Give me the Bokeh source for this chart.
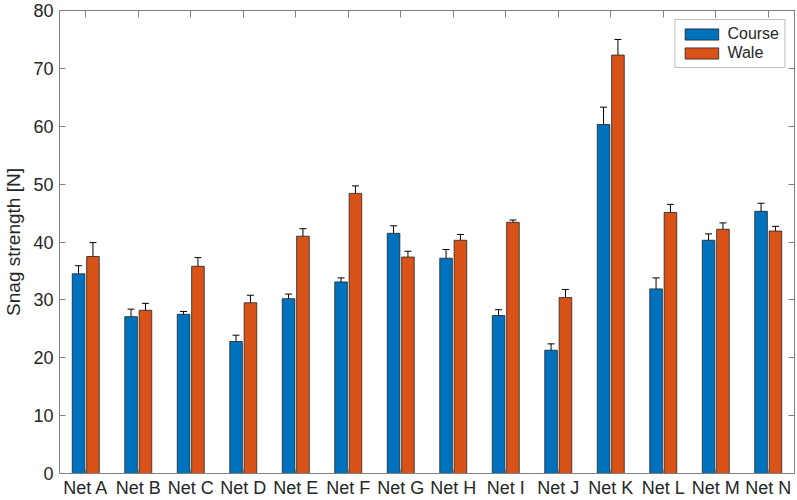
from bokeh.plotting import figure
from bokeh.models import (ColumnDataSource, Range1d, LinearAxis,
                          Whisker, TeeHead, Legend, LegendItem, FixedTicker)
from bokeh.transform import dodge
from bokeh.embed import file_html
from bokeh.resources import INLINE

nets = ["Net A", "Net B", "Net C", "Net D", "Net E", "Net F", "Net G",
        "Net H", "Net I", "Net J", "Net K", "Net L", "Net M", "Net N"]
course = [34.5, 27.1, 27.5, 22.8, 30.2, 33.1, 41.5, 37.2, 27.3, 21.3, 60.3, 31.9, 40.3, 45.3]
course_err = [1.4, 1.3, 0.5, 1.1, 0.8, 0.7, 1.3, 1.5, 1.0, 1.1, 3.0, 1.9, 1.1, 1.4]
wale = [37.5, 28.2, 35.8, 29.5, 41.0, 48.4, 37.4, 40.3, 43.4, 30.4, 72.3, 45.1, 42.2, 41.9]
wale_err = [2.4, 1.2, 1.5, 1.3, 1.3, 1.3, 1.0, 1.0, 0.4, 1.4, 2.7, 1.4, 1.1, 0.8]
y_ticks = [0, 10, 20, 30, 40, 50, 60, 70, 80]

FONT = "Liberation Sans"
TXT = "#262626"
AX = "#808080"
BLUE = "#0072BD"
ORANGE = "#D95319"

pos = list(range(1, len(nets) + 1))

src = ColumnDataSource(dict(
    pos=pos, course=course, wale=wale,
    c_up=[v + e for v, e in zip(course, course_err)],
    c_lo=[v - e for v, e in zip(course, course_err)],
    w_up=[v + e for v, e in zip(wale, wale_err)],
    w_lo=[v - e for v, e in zip(wale, wale_err)],
))

p = figure(width=797, height=500, x_range=Range1d(0.5, len(nets) + 0.5),
           y_range=Range1d(0, 80), output_backend="svg", toolbar_location=None,
           min_border_left=56, min_border_right=3, min_border_top=10, min_border_bottom=26)
p.xgrid.visible = False
p.ygrid.visible = False
p.outline_line_color = AX
p.background_fill_color = "white"
p.border_fill_color = "white"

off = 0.137
bw = 0.24
r1 = p.vbar(x=dodge("pos", -off), top="course", width=bw, source=src,
            fill_color=BLUE, line_color="#222222", line_width=0.8)
r2 = p.vbar(x=dodge("pos", off), top="wale", width=bw, source=src,
            fill_color=ORANGE, line_color="#222222", line_width=0.8)

for base, up, lo in [(-off, "c_up", "c_lo"), (off, "w_up", "w_lo")]:
    w = Whisker(base=dodge("pos", base), upper=up, lower=lo, source=src,
                line_color="black", line_width=1,
                upper_head=TeeHead(size=7, line_color="black", line_width=1),
                lower_head=TeeHead(size=7, line_color="black", line_width=1))
    p.add_layout(w)

# bottom axis with category labels
xa = p.xaxis[0]
xa.ticker = FixedTicker(ticks=pos)
xa.major_label_overrides = {k: n for k, n in zip(pos, nets)}
xa.axis_line_color = AX
xa.major_tick_in = 4
xa.major_tick_out = 0
xa.minor_tick_line_color = None
xa.major_tick_line_color = AX
xa.major_label_text_font = FONT
xa.major_label_text_font_size = "18px"
xa.major_label_text_color = TXT
xa.major_label_standoff = 4

ya = p.yaxis[0]
ya.ticker = FixedTicker(ticks=y_ticks)
ya.axis_line_color = AX
ya.major_tick_in = 6
ya.major_tick_out = 0
ya.minor_tick_line_color = None
ya.major_tick_line_color = AX
ya.major_label_text_font = FONT
ya.major_label_text_font_size = "18px"
ya.major_label_text_color = TXT
ya.major_label_standoff = 6
ya.axis_label = "Snag strength [N]"
ya.axis_label_text_font = FONT
ya.axis_label_text_font_size = "19px"
ya.axis_label_text_font_style = "normal"
ya.axis_label_text_color = TXT
ya.axis_label_standoff = 6

# top and right box ticks (label-free, via minor ticks)
top = LinearAxis(ticker=FixedTicker(ticks=[], minor_ticks=pos),
                 minor_tick_in=7, minor_tick_out=0, minor_tick_line_color=AX,
                 major_tick_line_color=None, axis_line_color=AX, major_label_standoff=0)
p.add_layout(top, "above")
right = LinearAxis(ticker=FixedTicker(ticks=[], minor_ticks=y_ticks), minor_tick_in=6,
                   minor_tick_out=0, minor_tick_line_color=AX, major_tick_line_color=None,
                   axis_line_color=AX, major_label_standoff=0)
p.add_layout(right, "right")

legend = Legend(items=[LegendItem(label="Course", renderers=[r1]),
                       LegendItem(label="Wale", renderers=[r2])],
                location="top_right", margin=9, padding=5, spacing=1,
                glyph_width=42, glyph_height=14, label_height=14, label_standoff=5,
                label_text_font=FONT, label_text_font_size="16px", label_text_color=TXT,
                border_line_color=AX, border_line_width=1, background_fill_alpha=1)
p.add_layout(legend, "center")

open("out.html", "w").write(file_html(p, INLINE))
